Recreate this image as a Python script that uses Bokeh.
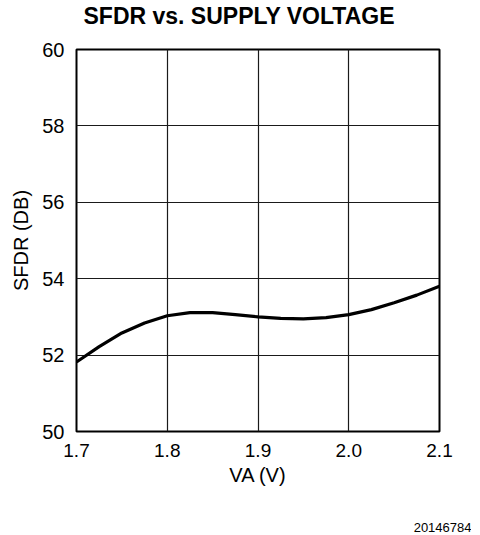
from bokeh.plotting import figure
from bokeh.models import Range1d, FixedTicker, PrintfTickFormatter, Title
from bokeh.embed import file_html
from bokeh.resources import INLINE

# Data
va_volts = [1.700, 1.725, 1.750, 1.775, 1.800, 1.825, 1.850, 1.875, 1.900,
            1.925, 1.950, 1.975, 2.000, 2.025, 2.050, 2.075, 2.100]
sfdr_db = [51.82, 52.22, 52.58, 52.84, 53.03, 53.11, 53.11, 53.06, 53.00,
           52.96, 52.95, 52.98, 53.06, 53.19, 53.37, 53.57, 53.80]

x_ticks = [1.7, 1.8, 1.9, 2.0, 2.1]
y_ticks = [50, 52, 54, 56, 58, 60]

title_text = "SFDR vs. SUPPLY VOLTAGE"
x_label = "VA (V)"
y_label = "SFDR (DB)"
footer_text = "20146784"

FONT = "Liberation Sans"

p = figure(width=471, height=534, output_backend="svg", toolbar_location=None,
           x_range=Range1d(1.7, 2.1), y_range=Range1d(50, 60),
           min_border_left=76, min_border_right=32, min_border_top=49,
           min_border_bottom=103, title=None)

p.line(va_volts, sfdr_db, line_color="black", line_width=3.2)

p.outline_line_color = "black"
p.outline_line_width = 2
p.background_fill_color = "white"
p.border_fill_color = "white"

for ax in (p.xaxis[0], p.yaxis[0]):
    ax.axis_line_color = None
    ax.major_tick_line_color = None
    ax.minor_tick_line_color = None
    ax.major_tick_out = 0
    ax.major_tick_in = 0
    ax.major_label_text_font = FONT
    ax.major_label_text_color = "black"
    ax.axis_label_text_font = FONT
    ax.axis_label_text_font_size = "20px"
    ax.axis_label_text_font_style = "normal"
    ax.axis_label_text_color = "black"

p.xaxis.major_label_text_font_size = "19px"
p.yaxis.major_label_text_font_size = "20px"
p.xaxis.ticker = FixedTicker(ticks=x_ticks)
p.yaxis.ticker = FixedTicker(ticks=y_ticks)
p.xaxis.formatter = PrintfTickFormatter(format="%.1f")
p.yaxis.formatter = PrintfTickFormatter(format="%d")
p.xaxis.axis_label = x_label
p.yaxis.axis_label = y_label
p.xaxis.major_label_standoff = 12
p.yaxis.major_label_standoff = 12
p.xaxis.axis_label_standoff = 4
p.yaxis.axis_label_standoff = 7

p.xgrid.ticker = FixedTicker(ticks=x_ticks)
p.ygrid.ticker = FixedTicker(ticks=y_ticks)
p.grid.grid_line_color = "#1a1a1a"
p.grid.grid_line_width = 1.2

top_spacer = Title(text=" ", text_font=FONT, text_font_size="16px", standoff=2)
p.add_layout(top_spacer, "above")
main_title = Title(text=title_text, align="left", offset=7, standoff=0,
                   text_font=FONT, text_font_size="23px", text_font_style="bold",
                   text_color="black")
p.add_layout(main_title, "above")

spacer = Title(text=" ", text_font=FONT, text_font_size="16px", standoff=16)
p.add_layout(spacer, "below")
footer = Title(text=footer_text, align="right", offset=-32, standoff=-6,
               text_font=FONT, text_font_size="13px", text_font_style="normal",
               text_color="black")
p.add_layout(footer, "below")

open("out.html", "w").write(file_html(p, INLINE))
